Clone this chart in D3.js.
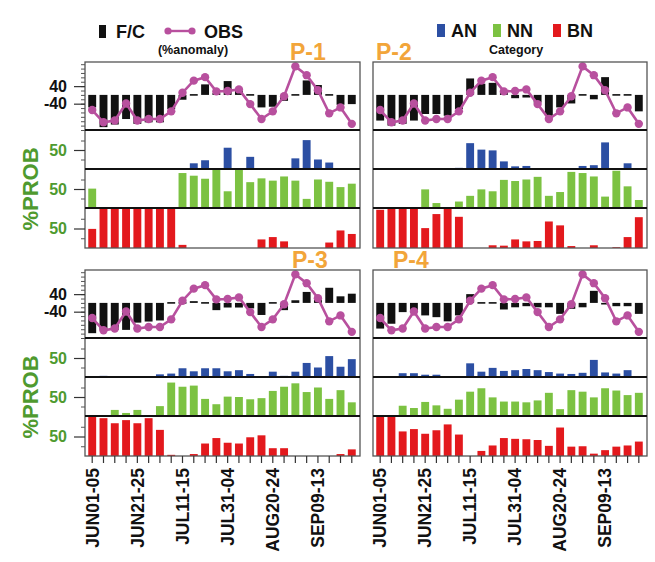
<!DOCTYPE html>
<html>
<head>
<meta charset="utf-8">
<script src="https://cdn.jsdelivr.net/npm/d3@7"></script>
<style>
  body { margin: 0; background: #fff; }
  svg { display: block; }
  text { font-family: "Liberation Sans", Arial, Helvetica, sans-serif; font-weight: bold; }
</style>
</head>
<body>
<svg id="chart" width="655" height="562"></svg>
<script>
// Pentads of the June–September season
const pentads = [
  "JUN01-05","JUN06-10","JUN11-15","JUN16-20","JUN21-25","JUN26-30",
  "JUL01-05","JUL06-10","JUL11-15","JUL16-20","JUL21-25","JUL26-30",
  "JUL31-04","AUG05-09","AUG10-14","AUG15-19","AUG20-24","AUG25-29",
  "AUG30-03","SEP04-08","SEP09-13","SEP14-18","SEP19-23","SEP24-28"
];
const tickLabels = ["JUN01-05","JUN21-25","JUL11-15","JUL31-04","AUG20-24","SEP09-13"];
const panelNames = ["P-1", "P-2", "P-3", "P-4"];
const anomalyTicks = [-40, 40];
const probTicks = [50];

// Observed rainfall anomaly (%), shared by all panels
const obs = [-69,-125,-117,-39,-117,-110,-110,-75,10,65,81,16,18,25,-42,-110,-75,-6,130,90,21,-84,-57,-132];

// Forecast anomaly (%) per panel
const fcP1 = [-57,-147,-135,-110,-132,-125,-125,-65,-22,0,48,8,63,20,0,-57,-54,-27,0,66,45,0,-45,-42];
const fcP2 = [-117,-140,-132,-117,-87,-87,-95,-65,75,51,55,12,-15,-12,-35,-95,-57,-39,0,-20,81,0,0,-75];
const fcP3 = [-138,-123,-123,-123,-90,-85,-80,0,0,8,0,-33,-21,-21,-25,-55,0,-33,12,50,15,69,30,42];
const fcP4 = [-117,-95,-42,-35,-57,-65,-84,-57,40,0,0,-30,-20,-15,-20,-20,-50,-27,-20,55,-5,-15,-15,-50];

// Category probabilities (%): above normal, near normal, below normal
const anP1 = [0,0,0,0,0,0,0,0,0,15,23,0,56,0,32,0,0,0,28,76,25,17,0,0];
const nnP1 = [51,0,0,0,0,0,0,0,92,85,77,100,44,100,68,78,72,83,72,24,75,69,55,64];
const bnP1 = [49,100,100,100,100,100,100,100,8,0,0,0,0,0,0,22,28,17,0,0,0,14,45,36];

const anP2 = [2,0,0,0,0,0,0,3,68,51,49,20,7,8,0,0,0,0,8,10,70,0,15,0];
const nnP2 = [0,0,0,0,49,13,0,17,32,49,44,74,71,75,82,32,42,95,92,83,30,98,57,21];
const bnP2 = [98,100,100,100,51,87,100,80,0,0,7,6,22,17,18,68,58,5,0,7,0,2,28,79];

const anP3 = [0,3,0,0,0,2,7,9,23,15,23,23,15,18,8,0,14,3,14,37,25,55,27,47];
const nnP3 = [0,0,16,8,16,1,26,88,77,80,45,31,51,50,44,47,66,77,86,63,75,45,68,36];
const bnP3 = [100,97,84,92,84,97,67,3,0,5,32,46,34,32,48,53,20,20,0,0,0,0,5,17];

const anP4 = [0,0,10,10,6,6,0,2,36,14,24,16,18,21,18,13,9,8,11,45,12,9,18,2];
const nnP4 = [0,0,27,21,37,28,19,43,64,73,49,38,38,36,41,61,18,68,64,49,73,67,55,61];
const bnP4 = [100,100,63,69,57,66,81,55,0,13,27,46,44,43,41,26,73,24,25,6,15,24,27,37];

const panels = [
  { name: panelNames[0], fc: fcP1, an: anP1, nn: nnP1, bn: bnP1 },
  { name: panelNames[1], fc: fcP2, an: anP2, nn: nnP2, bn: bnP2 },
  { name: panelNames[2], fc: fcP3, an: anP3, nn: nnP3, bn: bnP3 },
  { name: panelNames[3], fc: fcP4, an: anP4, nn: nnP4, bn: bnP4 }
];

const C = {
  fc: "#111111", obs: "#b8509e", an: "#2c4fa3", nn: "#7cc242", bn: "#e3191d",
  green: "#4f9a2f", orange: "#f2a53a", frame: "#555555"
};

const svg = d3.select("#chart");

const colX = [85, 373];
const colW = [275, 274];
const rowY = [62, 270];
const subH = [68, 39, 39, 40];

panels.forEach((p, k) => {
  const col = k % 2, row = Math.floor(k / 2);
  const x0 = colX[col], x1 = colX[col] + colW[col];
  const top = rowY[row];
  const edges = [top];
  subH.forEach(h => edges.push(edges[edges.length - 1] + h));

  const x = d3.scaleBand().domain(d3.range(pentads.length))
    .range([x0 + 1, x1 - 2]).paddingInner(0.3).paddingOuter(0.2);
  const g = svg.append("g");

  // Forecast anomaly bars and observed line
  const yA = d3.scaleLinear().domain([-160, 150]).range([edges[1], edges[0]]);
  g.append("g").selectAll("rect").data(p.fc).join("rect")
    .attr("x", (d, i) => x(i))
    .attr("width", x.bandwidth())
    .attr("y", d => d === 0 ? yA(0) - 0.8 : Math.min(yA(d), yA(0)))
    .attr("height", d => Math.max(Math.abs(yA(d) - yA(0)), 1.6))
    .attr("fill", C.fc);

  const line = d3.line().x((d, i) => x(i) + x.bandwidth() / 2).y(d => yA(d));
  g.append("path").datum(obs).attr("d", line)
    .attr("fill", "none").attr("stroke", C.obs).attr("stroke-width", 2.6);
  g.append("g").selectAll("circle").data(obs).join("circle")
    .attr("cx", (d, i) => x(i) + x.bandwidth() / 2)
    .attr("cy", d => yA(d)).attr("r", 4.2).attr("fill", C.obs);

  // Category probability bars
  const cats = [["an", C.an], ["nn", C.nn], ["bn", C.bn]];
  const yPs = [];
  cats.forEach(([key, color], j) => {
    const yP = d3.scaleLinear().domain([0, 100]).range([edges[j + 2], edges[j + 1] + 1]);
    yPs.push(yP);
    g.append("g").selectAll("rect").data(p[key]).join("rect")
      .attr("x", (d, i) => x(i))
      .attr("width", x.bandwidth())
      .attr("y", d => yP(d))
      .attr("height", d => yP(0) - yP(d))
      .attr("fill", color);
  });

  // Frame and sub-panel separators
  g.append("rect").attr("x", x0).attr("y", edges[0]).attr("width", x1 - x0)
    .attr("height", edges[4] - edges[0]).attr("fill", "none")
    .attr("stroke", C.frame).attr("stroke-width", 1.3);
  [1, 2, 3].forEach(j => {
    g.append("line").attr("x1", x0).attr("x2", x1).attr("y1", edges[j]).attr("y2", edges[j])
      .attr("stroke", "#111").attr("stroke-width", 2);
  });

  // Left axes on the left column
  if (col === 0) {
    const minorA = d3.axisLeft(yA).tickValues(d3.range(-160, 151, 20)).tickSize(4).tickFormat("");
    g.append("g").attr("transform", `translate(${x0},0)`).call(minorA)
      .call(s => s.select(".domain").remove())
      .call(s => s.selectAll("line").attr("stroke", C.frame));
    const majorA = d3.axisLeft(yA).tickValues(anomalyTicks).tickSize(11).tickPadding(7)
      .tickFormat(d => String(d));
    g.append("g").attr("transform", `translate(${x0},0)`).call(majorA)
      .call(s => s.select(".domain").remove())
      .call(s => s.selectAll("line").attr("stroke", "#333").attr("stroke-width", 1.2))
      .call(s => s.selectAll("text").attr("font-size", 16).attr("fill", "#111"));

    yPs.forEach(yP => {
      g.append("g").attr("transform", `translate(${x0},0)`)
        .call(d3.axisLeft(yP).tickValues([25, 75]).tickSize(4).tickFormat(""))
        .call(s => s.select(".domain").remove())
        .call(s => s.selectAll("line").attr("stroke", C.frame));
      g.append("g").attr("transform", `translate(${x0},0)`)
        .call(d3.axisLeft(yP).tickValues(probTicks).tickSize(11).tickPadding(7))
        .call(s => s.select(".domain").remove())
        .call(s => s.selectAll("line").attr("stroke", "#333").attr("stroke-width", 1.2))
        .call(s => s.selectAll("text").attr("font-size", 16).attr("fill", C.green));
    });

    svg.append("text")
      .attr("transform", `translate(38,${(edges[1] + edges[4]) / 2}) rotate(-90)`)
      .attr("text-anchor", "middle").attr("font-size", 22).attr("fill", C.green)
      .text("%PROB");
  }

  // Pentad axis below the lower row
  if (row === 1) {
    const xa = d3.axisBottom(x).tickSize(7).tickFormat("");
    g.append("g").attr("transform", `translate(0,${edges[4]})`).call(xa)
      .call(s => s.select(".domain").remove())
      .call(s => s.selectAll("line").attr("stroke", "#333").attr("stroke-width", 1.2));
    g.append("g").selectAll("text")
      .data(d3.range(pentads.length).filter(i => tickLabels.includes(pentads[i])))
      .join("text")
      .attr("transform", i => `translate(${x(i) + x.bandwidth() / 2},${edges[4] + 12}) rotate(-90)`)
      .attr("text-anchor", "end").attr("dy", "0.36em")
      .attr("font-size", 17.5).attr("fill", "#111")
      .text(i => pentads[i]);
  }

  // Panel name
  const nameX = [[290, 376], [292, 393]][row][col];
  svg.append("text").attr("x", nameX).attr("y", top - 2)
    .attr("font-size", 23).attr("fill", C.orange).text(p.name);
});

// Legends
const leg = svg.append("g");
leg.append("rect").attr("x", 99).attr("y", 25).attr("width", 7).attr("height", 13).attr("fill", C.fc);
leg.append("text").attr("x", 116).attr("y", 38).attr("font-size", 18).attr("fill", "#111").text("F/C");
leg.append("line").attr("x1", 168).attr("x2", 192).attr("y1", 31).attr("y2", 31)
  .attr("stroke", C.obs).attr("stroke-width", 2.4);
[168, 192].forEach(cx => leg.append("circle").attr("cx", cx).attr("cy", 31).attr("r", 3.6).attr("fill", C.obs));
leg.append("text").attr("x", 204).attr("y", 38).attr("font-size", 18).attr("fill", "#111").text("OBS");
leg.append("text").attr("x", 193).attr("y", 54).attr("text-anchor", "middle")
  .attr("font-size", 12.5).attr("fill", "#111").text("(%anomaly)");

const catLeg = [["AN", C.an, 437], ["NN", C.nn, 493], ["BN", C.bn, 553]];
catLeg.forEach(([t, c, lx]) => {
  leg.append("rect").attr("x", lx).attr("y", 24).attr("width", 8).attr("height", 13).attr("fill", c);
  leg.append("text").attr("x", lx + 14).attr("y", 37).attr("font-size", 18).attr("fill", "#111").text(t);
});
leg.append("text").attr("x", 516).attr("y", 54).attr("text-anchor", "middle")
  .attr("font-size", 12.5).attr("fill", "#111").text("Category");
</script>
</body>
</html>
